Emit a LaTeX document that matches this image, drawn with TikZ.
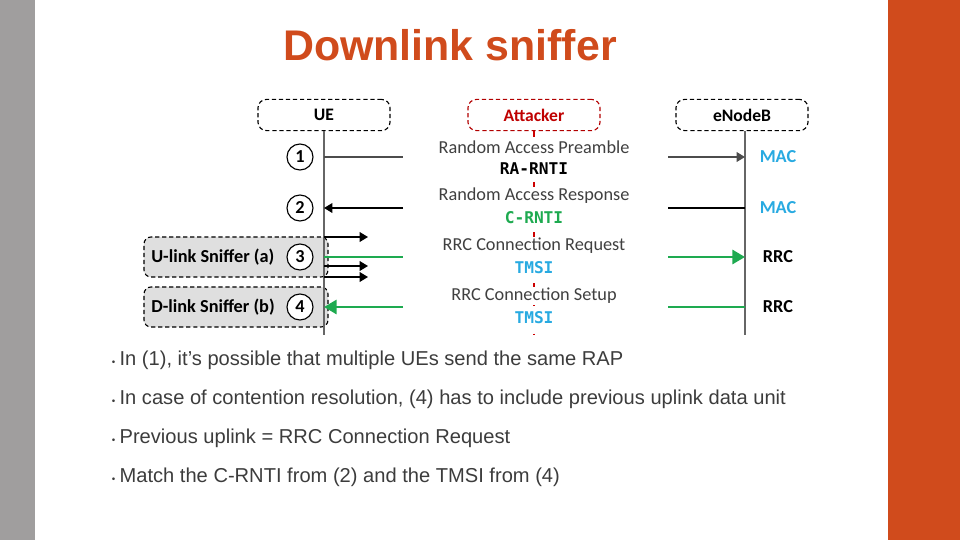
\documentclass[tikz,border=0pt]{standalone}
\usepackage{fontspec}
\setmainfont{Liberation Sans}
\setsansfont{Carlito}
\setmonofont{DejaVu Sans Mono}
\usetikzlibrary{arrows.meta}
\definecolor{orng}{RGB}{208,75,28}
\definecolor{lgray}{RGB}{160,158,158}
\definecolor{grn}{RGB}{30,170,80}
\definecolor{cyn}{RGB}{40,170,225}
\definecolor{txt}{RGB}{60,60,60}
\tikzset{
  ent/.style={draw, densely dashed, thick, rounded corners=6pt, minimum width=3.3cm, minimum height=0.78cm, font=\sffamily\bfseries\fontsize{12.5}{14}\selectfont},
  num/.style={circle, draw, thick, fill=white, inner sep=0pt, minimum size=0.65cm, font=\sffamily\bfseries\fontsize{13}{15}\selectfont},
  snif/.style={draw, densely dashed, thick, rounded corners=5pt, fill=gray!25, minimum width=4.6cm, minimum height=1cm},
  msg/.style={font=\sffamily\fontsize{13}{15}\selectfont, text=black!75},
  tag/.style={font=\ttfamily\bfseries\fontsize{11.5}{13}\selectfont},
  lyr/.style={font=\sffamily\bfseries\fontsize{13}{15}\selectfont},
  bul/.style={anchor=west, font=\fontsize{14.3}{16}\selectfont, text=txt},
  arr/.style={-{Triangle[length=6pt,width=7pt]}},
  garr/.style={-{Triangle[length=9pt,width=10pt]}},
}
\begin{document}
\begin{tikzpicture}[x=0.025cm,y=-0.025cm]
\useasboundingbox (0,0) rectangle (960,540);
\fill[lgray] (0,0) rectangle (35,540);
\fill[orng] (888,0) rectangle (960,540);

\node[text=orng, font=\fontsize{30.5}{34}\selectfont\bfseries] (title) at (450,45) {Downlink sniffer};

% sniffer boxes
\node[snif] (ulink) at (236,257) {};
\node[snif] (dlink) at (236,307) {};
\node[anchor=west, inner sep=0pt, font=\sffamily\bfseries\fontsize{13}{15}\selectfont] at (151,257) {U-link Sniffer (a)};
\node[anchor=west, inner sep=0pt, font=\sffamily\bfseries\fontsize{13}{15}\selectfont] at (151,307) {D-link Sniffer (b)};

% entities
\node[ent] (ue) at (324,115) {UE};
\node[ent, draw=red!70!black, text=red!75!black] (att) at (534,115) {Attacker};
\node[ent] (enb) at (742,115) {eNodeB};
\coordinate (ueb) at (324,335);
\coordinate (attb) at (534,335);
\coordinate (enbb) at (745,335);
\draw[thick, gray!80!black] (324,131) -- (ueb);
\draw[thick, gray!80!black] (745,131) -- (enbb);
\draw[very thick, red!80!black, dash pattern=on 4pt off 8pt] (att) -- (attb);

% message labels
\node[msg, fill=white, inner sep=1pt] (m1) at (534,147) {Random Access Preamble};
\node[tag, fill=white, inner sep=1pt] (t1) at (534,169) {RA-RNTI};
\node[msg, fill=white, inner sep=1pt] (m2) at (534,196) {Random Access Response};
\node[tag, fill=white, inner sep=1pt, text=grn] (t2) at (534,218) {C-RNTI};
\node[msg, fill=white, inner sep=1pt] (m3) at (534,246) {RRC Connection Request};
\node[tag, fill=white, inner sep=1pt, text=cyn] (t3) at (534,268) {TMSI};
\node[msg, fill=white, inner sep=1pt] (m4) at (534,296) {RRC Connection Setup};
\node[tag, fill=white, inner sep=1pt, text=cyn] (t4) at (534,318) {TMSI};

% layer labels
\node[lyr, text=cyn] (l1) at (778,157) {MAC};
\node[lyr, text=cyn] (l2) at (778,208) {MAC};
\node[lyr] (l3) at (778,257) {RRC};
\node[lyr] (l4) at (778,307) {RRC};

% coordinates for connectors
\foreach \n/\y in {1/157,2/208,3/257,4/307}{
  \coordinate (ua\n) at (324,\y);
  \coordinate (ub\n) at (403,\y);
  \coordinate (ea\n) at (668,\y);
  \coordinate (eb\n) at (745,\y);
  \node[num] (c\n) at (300,\y) {\n};
}
\coordinate (s1a) at (324,237); \coordinate (s1b) at (368,237);
\coordinate (s2a) at (324,266); \coordinate (s2b) at (368,266);
\coordinate (s3a) at (324,277); \coordinate (s3b) at (368,277);

\draw[thick, gray!60!black] (ua1) -- (ub1);
\draw[thick, gray!60!black, arr] (ea1) -- (eb1);
\draw[thick, arr] (ub2) -- (ua2);
\draw[thick] (ea2) -- (eb2);
\draw[line width=2pt, grn] (ua3) -- (ub3);
\draw[line width=2pt, grn, garr] (ea3) -- (eb3);
\draw[line width=2pt, grn, garr] (ub4) -- (ua4);
\draw[line width=2pt, grn] (ea4) -- (eb4);
\draw[thick, arr] (s1a) -- (s1b);
\draw[thick, arr] (s2a) -- (s2b);
\draw[thick, arr] (s3a) -- (s3b);

% bullets
\foreach \y/\t in {360/{In (1), it’s possible that multiple UEs send the same RAP},
  399/{In case of contention resolution, (4) has to include previous uplink data unit},
  438/{Previous uplink = RRC Connection Request},
  477/{Match the C-RNTI from (2) and the TMSI from (4)}}{
  \node[bul] at (107,\y) {{\scriptsize\textbullet}\hspace{3pt}\t};
}
\end{tikzpicture}
\end{document}
